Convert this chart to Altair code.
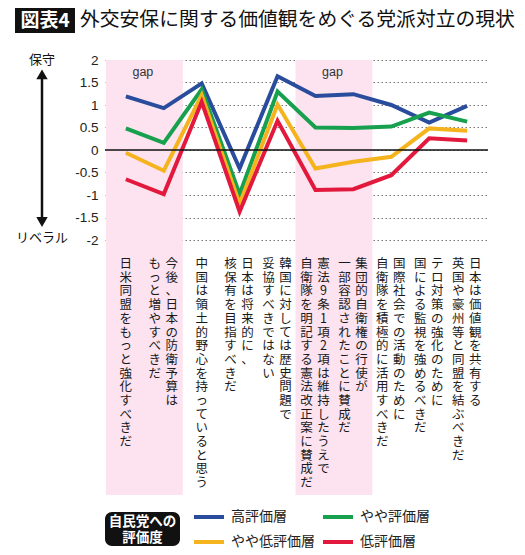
import altair as alt
import pandas as pd

# ---------------- data ----------------
label_columns = [
    ["日米同盟をもっと強化すべきだ"],
    ["今後、日本の防衛予算は", "もっと増やすべきだ"],
    ["中国は領土的野心を持っていると思う"],
    ["日本は将来的に、", "核保有を目指すべきだ"],
    ["韓国に対しては歴史問題で", "妥協すべきではない"],
    ["憲法9条1項2項は維持したうえで", "自衛隊を明記する憲法改正案に賛成だ"],
    ["集団的自衛権の行使が", "一部容認されたことに賛成だ"],
    ["国際社会での活動のために", "自衛隊を積極的に活用すべきだ"],
    ["テロ対策の強化のために", "国による監視を強めるべきだ"],
    ["日本は価値観を共有する", "英国や豪州等と同盟を結ぶべきだ"],
]
categories = ["".join(c) for c in label_columns]

series_names = ["高評価層", "やや評価層", "やや低評価層", "低評価層"]
series_colors = ["#2a4c9c", "#17a04d", "#f5b41e", "#e2183c"]

high = [1.19, 0.93, 1.48, -0.41, 1.64, 1.20, 1.24, 1.00, 0.61, 0.98]
mid_high = [0.48, 0.16, 1.35, -0.98, 1.30, 0.50, 0.49, 0.52, 0.83, 0.63]
mid_low = [-0.06, -0.46, 1.22, -1.20, 1.01, -0.41, -0.26, -0.15, 0.48, 0.43]
low = [-0.65, -0.98, 1.07, -1.37, 0.65, -0.89, -0.87, -0.56, 0.26, 0.21]
series_values = [high, mid_high, mid_low, low]

gap_bands = [(0, 1), (5, 6)]
gap_text = "gap"
y_ticks = [-2, -1.5, -1, -0.5, 0, 0.5, 1, 1.5, 2]
y_top_text = "保守"
y_bottom_text = "リベラル"
legend_title = "自民党への\n評価度"
fig_tag = "図表4"
title_text = "外交安保に関する価値観をめぐる党派対立の現状"

# ---------------- tables ----------------
rows = []
for name, vals in zip(series_names, series_values):
    for c, v in zip(categories, vals):
        rows.append({"cat": c, "series": name, "value": v})
df = pd.DataFrame(rows)

lab_rows = []
for c, cols in zip(categories, label_columns):
    if len(cols) == 1:
        lab_rows.append({"cat": c, "role": "single", "text": "\n".join(cols[0])})
    else:
        lab_rows.append({"cat": c, "role": "right", "text": "\n".join(cols[0])})
        lab_rows.append({"cat": c, "role": "left", "text": "\n".join(cols[1])})
lab_df = pd.DataFrame(lab_rows)

band_df = pd.DataFrame(
    [{"c0": categories[a], "c1": categories[b], "t": gap_text} for a, b in gap_bands]
)

H = 435
YMIN = 2 - H / 45.0
JP = "Noto Sans CJK JP"

xscale = alt.Scale(type="point", padding=0.55, domain=categories)
xs = alt.X("cat:N", axis=None, scale=xscale)
yscale = alt.Scale(domain=[YMIN, 2], nice=False, zero=False)

base = alt.Chart(df)

bands = alt.Chart(band_df).mark_rect(color="#fce3ef", xOffset=-20, x2Offset=19).encode(
    x=alt.X("c0:N", axis=None, scale=xscale),
    x2="c1:N",
    y=alt.datum(2, scale=yscale),
    y2=alt.datum(YMIN),
)

gap_labels = alt.Chart(band_df).mark_text(
    dx=17, dy=12, fontSize=12.5, font="Liberation Sans", color="#333", baseline="middle"
).encode(
    x=alt.X("c0:N", axis=None, scale=xscale),
    y=alt.datum(2),
    text="t:N",
)

lines = base.mark_line(strokeWidth=4, strokeJoin="miter", strokeCap="butt").encode(
    x=xs,
    y=alt.Y("value:Q", scale=yscale,
            axis=alt.Axis(values=y_ticks, title=None, domain=False, ticks=False,
                          labelExpr="datum.value + ''", labelFontSize=13.5,
                          labelFont="Liberation Sans", labelColor="#222",
                          labelPadding=7, grid=True, gridDash=[1.5, 2.5],
                          gridColor="#777", gridWidth=1)),
    color=alt.Color("series:N", sort=series_names,
                    scale=alt.Scale(domain=series_names, range=series_colors),
                    legend=alt.Legend(orient="none", legendX=87, legendY=440, columns=2,
                                      direction="horizontal",
                                      title=None, symbolType="stroke", symbolStrokeWidth=4,
                                      symbolSize=900, labelFontSize=14, labelFont=JP,
                                      labelColor="#222", columnPadding=0, rowPadding=-6,
                                      labelOffset=5)),
)

zero = alt.Chart(pd.DataFrame({"v": [0]})).mark_rule(color="#111", strokeWidth=1.3).encode(
    y=alt.Y("v:Q", scale=yscale)
)

def vlabels(role, dx):
    return alt.Chart(lab_df).transform_filter(alt.datum.role == role).mark_text(
        lineBreak="\n", fontSize=12.5, lineHeight=13.7, font=JP, color="#1a1a1a",
        align="center", baseline="top", dx=dx
    ).encode(
        x=xs,
        y=alt.datum(-2.4),
        text="text:N",
    )

one = pd.DataFrame({"a": [0]})
arrow_x = alt.value(-63)
arrow_line = alt.Chart(one).mark_rule(color="#111", strokeWidth=2.5).encode(
    x=arrow_x, y=alt.datum(1.66), y2=alt.datum(-1.58)
)
arrow_up = alt.Chart(one).mark_point(shape="triangle-up", filled=True, color="#111",
                                     size=130, opacity=1).encode(x=arrow_x, y=alt.datum(1.68))
arrow_down = alt.Chart(one).mark_point(shape="triangle-down", filled=True, color="#111",
                                       size=130, opacity=1).encode(x=arrow_x, y=alt.datum(-1.6))
top_lab = alt.Chart(pd.DataFrame({"t": [y_top_text]})).mark_text(
    fontSize=13, font=JP, color="#111", baseline="middle").encode(
    x=arrow_x, y=alt.datum(2), text="t:N")
bot_lab = alt.Chart(pd.DataFrame({"t": [y_bottom_text]})).mark_text(
    fontSize=13, font=JP, color="#111", baseline="middle", dy=-2).encode(
    x=arrow_x, y=alt.datum(-2), text="t:N")

leg_box = alt.Chart(one).mark_rect(color="#111", cornerRadius=7).encode(
    x=alt.value(0), x2=alt.value(75), y=alt.value(452), y2=alt.value(486))
leg_text = alt.Chart(pd.DataFrame({"t": [legend_title]})).mark_text(
    lineBreak="\n", fontSize=13.5, lineHeight=16.5, font=JP, fontWeight="bold",
    color="white", align="center", baseline="middle").encode(
    x=alt.value(37.5), y=alt.value(461.5), text="t:N")

tag_box = alt.Chart(one).mark_rect(color="#111").encode(
    x=alt.value(-90), x2=alt.value(-30), y=alt.value(-52), y2=alt.value(-27))
tag_text = alt.Chart(pd.DataFrame({"t": [fig_tag]})).mark_text(
    fontSize=19, font=JP, fontWeight="bold", color="white", align="center",
    baseline="middle").encode(x=alt.value(-60), y=alt.value(-39.5), text="t:N")
title = alt.Chart(pd.DataFrame({"t": [title_text]})).mark_text(
    fontSize=19.8, font=JP, color="#111", align="left", baseline="middle").encode(
    x=alt.value(-25), y=alt.value(-40), text="t:N")

chart = alt.layer(
    bands, gap_labels, lines, zero,
    vlabels("single", 0), vlabels("right", 8), vlabels("left", -9),
    arrow_line, arrow_up, arrow_down, top_lab, bot_lab,
    leg_box, leg_text, tag_box, tag_text, title,
).properties(
    width=383, height=H,
    autosize=alt.AutoSizeParams(type="none"),
    padding={"left": 97, "top": 52, "right": 27, "bottom": 56},
    background="white",
).configure_view(stroke=None)

chart.save("out.html", embed_options={"renderer": "svg", "actions": False})
